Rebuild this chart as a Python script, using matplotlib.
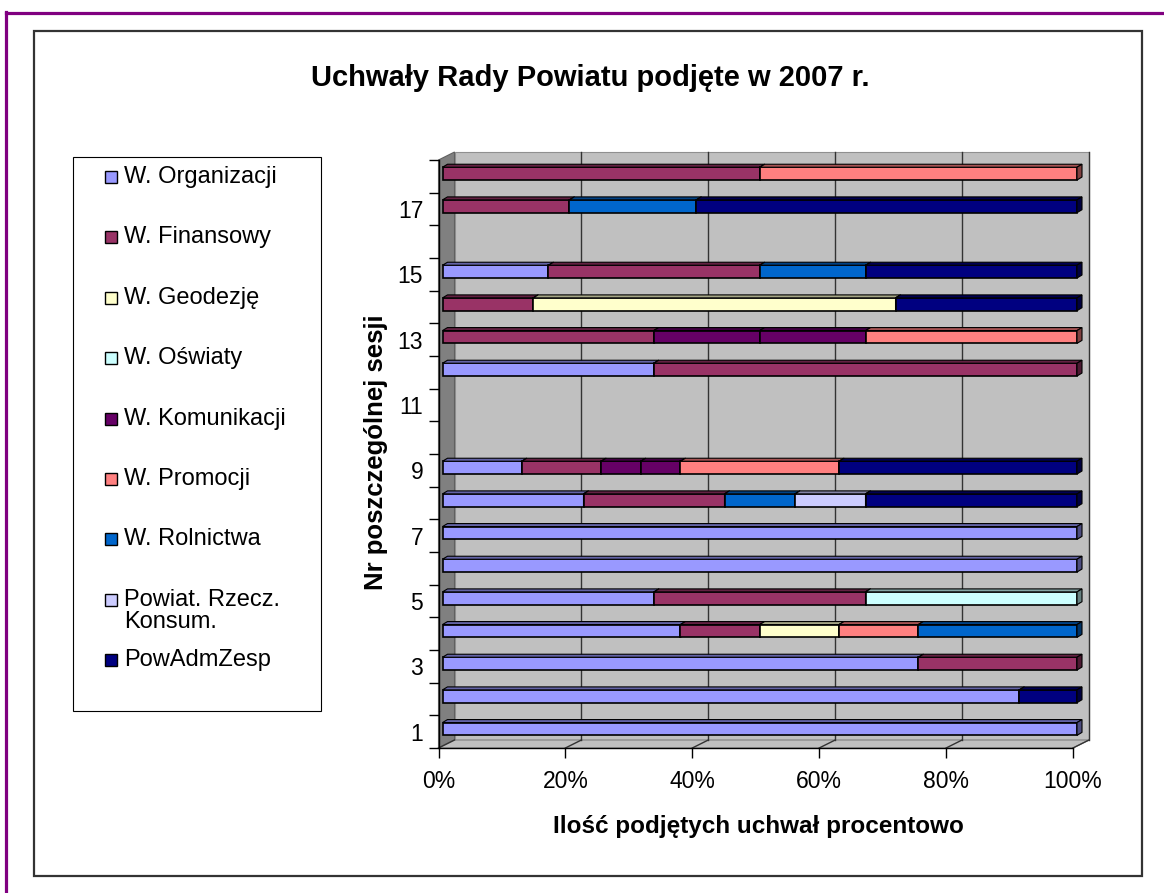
import matplotlib
matplotlib.use('Agg')

import numpy as np
import matplotlib.pyplot as plt
from matplotlib.patches import Rectangle, Polygon
from matplotlib.lines import Line2D
from matplotlib.colors import to_rgb

plt.rcParams['font.family'] = ['Liberation Sans', 'DejaVu Sans']

# --- data (percent of resolutions per session) ---
sessions = list(range(1, 19))
series_names = ['W. Organizacji', 'W. Finansowy', 'W. Geodezję', 'W. Oświaty',
                'W. Komunikacji', 'W. Komunikacji', 'W. Promocji', 'W. Rolnictwa',
                'Powiat. Rzecz.\nKonsum.', 'PowAdmZesp']
in_legend = [True, True, True, True, True, False, True, True, True, True]
colors = ['#9999FF', '#993366', '#FFFFCC', '#CCFFFF', '#660066', '#660066',
          '#FF8080', '#0066CC', '#CCCCFF', '#000080']

organizacji = [100, 90.9, 75, 37.5, 33.3, 100, 100, 22.2, 12.5, 0, 0, 33.3, 0, 0, 16.7, 0, 0, 0]
finansowy   = [0, 0, 25, 12.5, 33.3, 0, 0, 22.2, 12.5, 0, 0, 66.7, 33.3, 14.3, 33.3, 0, 20, 50]
geodezje    = [0, 0, 0, 12.5, 0, 0, 0, 0, 0, 0, 0, 0, 0, 57.1, 0, 0, 0, 0]
oswiaty     = [0, 0, 0, 0, 33.3, 0, 0, 0, 0, 0, 0, 0, 0, 0, 0, 0, 0, 0]
komunikacji = [0, 0, 0, 0, 0, 0, 0, 0, 6.25, 0, 0, 0, 16.7, 0, 0, 0, 0, 0]
komunikacji2 = [0, 0, 0, 0, 0, 0, 0, 0, 6.25, 0, 0, 0, 16.7, 0, 0, 0, 0, 0]
promocji    = [0, 0, 0, 12.5, 0, 0, 0, 0, 25, 0, 0, 0, 33.3, 0, 0, 0, 0, 50]
rolnictwa   = [0, 0, 0, 25, 0, 0, 0, 11.1, 0, 0, 0, 0, 0, 0, 16.7, 0, 20, 0]
rzecz_kons  = [0, 0, 0, 0, 0, 0, 0, 11.1, 0, 0, 0, 0, 0, 0, 0, 0, 0, 0]
powadmzesp  = [0, 9.1, 0, 0, 0, 0, 0, 33.3, 37.5, 0, 0, 0, 0, 28.6, 33.3, 0, 60, 0]

series_values = [organizacji, finansowy, geodezje, oswiaty, komunikacji, komunikacji2,
                 promocji, rolnictwa, rzecz_kons, powadmzesp]

title = 'Uchwały Rady Powiatu podjęte w 2007 r.'
xlabel = 'Ilość podjętych uchwał procentowo'
ylabel = 'Nr poszczególnej sesji'
x_ticks = [0, 0.2, 0.4, 0.6, 0.8, 1.0]
x_ticklabels = ['0%', '20%', '40%', '60%', '80%', '100%']
y_labels_shown = [1, 3, 5, 7, 9, 11, 13, 15, 17]

# --- figure / frames ---
W, H = 1164, 893
fig = plt.figure(figsize=(W / 100, H / 100), dpi=100)


def fx(x):
    return x / W


def fy(y):
    return 1 - y / H


fig.add_artist(Line2D([fx(6), fx(6)], [fy(12), 0], color='#800080', lw=2.3))
fig.add_artist(Line2D([fx(6), 1], [fy(13), fy(13)], color='#800080', lw=2.3))
fig.add_artist(Rectangle((fx(34), fy(876)), fx(1142) - fx(34), fy(31) - fy(876),
                         fill=False, ec='#333333', lw=1.6))

fig.text(fx(590), fy(78), title, ha='center', va='center', fontsize=21, fontweight='bold')

# --- axes (front plane) ---
left, right, top, bottom = 438.5, 1073, 160, 748
ax = fig.add_axes([fx(left), fy(bottom), fx(right) - fx(left), fy(top) - fy(bottom)])
ax.set_xlim(0, 1)
ax.set_ylim(0.5, 18.5)
ax.patch.set_visible(False)

ppx = right - left
ppy = (bottom - top) / 18
DX, DY = 16 / ppx, 8 / ppy        # wall depth
BX = 4 / ppx                      # bar front offset
TX, TY = 5 / ppx, 3 / ppy         # bar depth
BAR_H = 12.8 / ppy
BAR_UP = 2.7 / ppy

y0, y1 = 0.5, 18.5
# walls
ax.add_patch(Rectangle((DX, y0 + DY), 1, y1 - y0, fc='#C0C0C0', ec='#909090', lw=0.8,
                       zorder=0, clip_on=False))
ax.add_patch(Polygon([(0, y0), (DX, y0 + DY), (DX, y1 + DY), (0, y1)],
                     fc='#808080', ec='#606060', lw=0.8, zorder=0.5, clip_on=False))
ax.add_patch(Polygon([(0, y0), (1, y0), (1 + DX, y0 + DY), (DX, y0 + DY)],
                     fc='#C0C0C0', ec='#808080', lw=0.8, zorder=0.5, clip_on=False))
for xt in x_ticks[1:]:
    ax.plot([xt + DX, xt + DX], [y0 + DY, y1 + DY], color='#333333', lw=1.0, zorder=1,
            clip_on=False)
for xt in x_ticks:
    ax.plot([xt, xt + DX], [y0, y0 + DY], color='#333333', lw=1.0, zorder=1, clip_on=False)

# bars (100% stacked)
data = np.array(series_values, dtype=float)
totals = data.sum(axis=0)
totals[totals == 0] = 1
data = data / totals


def shade(c, f):
    r, g, b = to_rgb(c)
    return (r * f, g * f, b * f)


for j, s in enumerate(sessions):
    yc = s + BAR_UP
    ybot, ytop = yc - BAR_H / 2, yc + BAR_H / 2
    acc = 0.0
    for i in range(len(series_values)):
        w = data[i, j]
        if w <= 0:
            continue
        x0 = acc + BX
        x1 = acc + w + BX
        c = colors[i]
        ax.add_patch(Rectangle((x0, ybot), w, BAR_H, fc=c, ec='black', lw=1.2, zorder=3,
                               clip_on=False))
        ax.add_patch(Polygon([(x0, ytop), (x1, ytop), (x1 + TX, ytop + TY), (x0 + TX, ytop + TY)],
                             fc=shade(c, 0.65), ec='black', lw=0.8, zorder=3, clip_on=False))
        ax.add_patch(Polygon([(x1, ybot), (x1 + TX, ybot + TY), (x1 + TX, ytop + TY), (x1, ytop)],
                             fc=shade(c, 0.5), ec='black', lw=0.8, zorder=3, clip_on=False))
        acc += w

# axes styling
for sp in ['top', 'right']:
    ax.spines[sp].set_visible(False)
for sp in ['left', 'bottom']:
    ax.spines[sp].set_color('black')
    ax.spines[sp].set_linewidth(1.0)
    ax.spines[sp].set_zorder(4)

ax.set_xticks(x_ticks)
ax.set_xticklabels(x_ticklabels, fontsize=16.5)
ax.tick_params(axis='x', length=7, width=1, pad=9, direction='out')
ax.set_yticks(np.arange(0.5, 19, 1))
ax.set_yticklabels([])
ax.set_yticks(y_labels_shown, minor=True)
ax.set_yticklabels([str(v) for v in y_labels_shown], minor=True, fontsize=16.5)
ax.tick_params(axis='y', which='major', length=7, width=1, direction='out')
ax.tick_params(axis='y', which='minor', length=0, pad=11)

fig.text(fx(758), fy(827), xlabel, ha='center', va='center', fontsize=17.5, fontweight='bold')
fig.text(fx(376), fy(452), ylabel, ha='center', va='center', rotation=90,
         fontsize=18.5, fontweight='bold')

# --- legend (drawn to match the original layout) ---
fig.add_artist(Rectangle((fx(73), fy(711)), fx(321) - fx(73), fy(157) - fy(711),
                         fill=False, ec='black', lw=0.8))
ly = 177
step = 60.4
for name, c, show in zip(series_names, colors, in_legend):
    if not show:
        continue
    fig.add_artist(Rectangle((fx(105), fy(ly + 6)), fx(12), fy(0) - fy(12),
                             fc=c, ec='black', lw=1.0))
    lines = name.split('\n')
    for k, line in enumerate(lines):
        fig.text(fx(124), fy(ly + 22 * k), line, ha='left', va='center', fontsize=17)
    ly += step

fig.savefig('out.png', dpi=100)
